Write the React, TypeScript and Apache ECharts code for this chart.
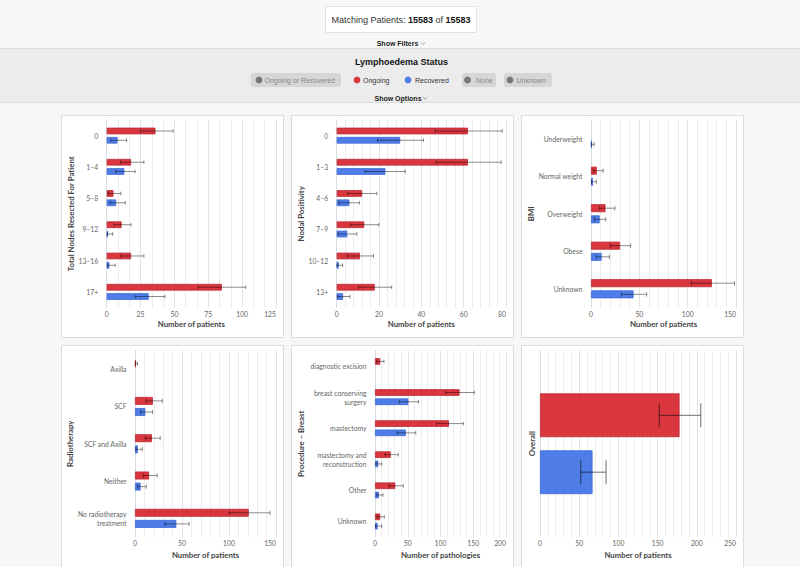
import React, { useEffect, useRef } from 'react';
import * as echarts from 'echarts';

// ---------- data ----------
const nodesCats = ['0', '1–4', '5–8', '9–12', '13–16', '17+'];
const nodesOngoing = [36, 18, 5, 11, 18, 85];
const nodesOngoingLo = [25, 10.3, 1.2, 5.4, 10.5, 67.6];
const nodesOngoingHi = [49, 27.5, 10.5, 18, 27.5, 102.7];
const nodesRecovered = [8, 13, 7, 1, 2, 31];
const nodesRecoveredLo = [3, 6.6, 2.4, 0.3, 0.5, 20.9];
const nodesRecoveredHi = [14.7, 21, 13.7, 4.4, 6.3, 43];

const nodalCats = ['0', '1–3', '4–6', '7–9', '10–12', '13+'];
const nodalOngoing = [62, 62, 12, 13, 11, 18];
const nodalOngoingLo = [46.6, 47, 5.2, 6.6, 5, 10.2];
const nodalOngoingHi = [78.2, 77.7, 19, 19.9, 17.4, 26];
const nodalRecovered = [30, 23, 6, 5, 1, 3];
const nodalRecoveredLo = [19.3, 13.4, 1.1, 0.7, 0.1, 0.5];
const nodalRecoveredHi = [41, 32.4, 10.7, 9.5, 2.8, 6.3];

const bmiCats = ['Underweight', 'Normal weight', 'Overweight', 'Obese', 'Unknown'];
const bmiOngoing = [0, 6, 15, 30, 125];
const bmiOngoingLo = [0, 2.4, 8.7, 20, 104];
const bmiOngoingHi = [0, 12.5, 24.7, 41, 148.5];
const bmiRecovered = [1, 2, 9, 11, 44];
const bmiRecoveredLo = [0.2, 0.5, 3.5, 5.5, 31.4];
const bmiRecoveredHi = [3.2, 5.5, 15.3, 19, 57.6];

const rtCats = ['Axilla', 'SCF', 'SCF and Axilla', 'Neither', 'No radiotherapy\ntreatment'];
const rtOngoing = [1, 19, 18, 15, 121];
const rtOngoingLo = [0.2, 11.7, 11, 8.8, 100];
const rtOngoingHi = [2.6, 29, 26.8, 23.6, 143.7];
const rtRecovered = [0, 11, 3, 6, 44];
const rtRecoveredLo = [0, 6, 1, 2.5, 31.8];
const rtRecoveredHi = [0, 18.7, 7.7, 12, 57.5];

const procCats = ['diagnostic excision', 'breast conserving\nsurgery', 'mastectomy', 'mastectomy and\nreconstruction', 'Other', 'Unknown'];
const procOngoing = [8, 129, 113, 24, 31, 8];
const procOngoingLo = [2.6, 108, 94, 15.3, 21.4, 3.1];
const procOngoingHi = [13.7, 151.6, 134.8, 35.6, 43.2, 14.2];
const procRecovered = [0, 51, 47, 5, 6, 4];
const procRecoveredLo = [0, 37.1, 34, 1.5, 2.6, 1];
const procRecoveredHi = [0, 66.3, 62.2, 10.2, 12.2, 10.2];

const overallCats = ['Overall'];
const overallOngoing = [178];
const overallOngoingLo = [152.2];
const overallOngoingHi = [205];
const overallRecovered = [67];
const overallRecoveredLo = [51.9];
const overallRecoveredHi = [84.2];

const matching = 15583;
const total = 15583;

// ---------- style ----------
const RED = '#d9363e';
const RED_B = '#bf2a33';
const BLUE = '#4f7de8';
const BLUE_B = '#3f6ad6';
const FONT = 'Lato';
const HFONT = 'Liberation Sans';

type Panel = {
  grid: { left: number; top: number; width: number; height: number };
  cats: string[];
  red: number[]; redLo: number[]; redHi: number[];
  blue: number[]; blueLo: number[]; blueHi: number[];
  max: number; interval: number; minor: number;
  yName: string; yNameGap: number; xName: string; xNameGap: number;
  showCatLabels: boolean; catGap: number; barGap: number; errW: number;
};

const panels: Panel[] = [
  { grid: { left: 106.7, top: 120, width: 169.3, height: 187.5 }, cats: nodesCats,
    red: nodesOngoing, redLo: nodesOngoingLo, redHi: nodesOngoingHi,
    blue: nodesRecovered, blueLo: nodesRecoveredLo, blueHi: nodesRecoveredHi,
    max: 125, interval: 25, minor: 3, yName: 'Total Nodes Resected For Patient', yNameGap: 31.5,
    xName: 'Number of patients', xNameGap: 12, showCatLabels: true, catGap: 0.49, barGap: 0.4, errW: 1 },
  { grid: { left: 336.7, top: 120, width: 169.3, height: 187.5 }, cats: nodalCats,
    red: nodalOngoing, redLo: nodalOngoingLo, redHi: nodalOngoingHi,
    blue: nodalRecovered, blueLo: nodalRecoveredLo, blueHi: nodalRecoveredHi,
    max: 80, interval: 20, minor: 5, yName: 'Nodal Positivity', yNameGap: 30.5,
    xName: 'Number of patients', xNameGap: 12, showCatLabels: true, catGap: 0.49, barGap: 0.4, errW: 1 },
  { grid: { left: 591, top: 120, width: 145, height: 187.5 }, cats: bmiCats,
    red: bmiOngoing, redLo: bmiOngoingLo, redHi: bmiOngoingHi,
    blue: bmiRecovered, blueLo: bmiRecoveredLo, blueHi: bmiRecoveredHi,
    max: 150, interval: 50, minor: 5, yName: 'BMI', yNameGap: 54,
    xName: 'Number of patients', xNameGap: 12, showCatLabels: true, catGap: 0.49, barGap: 0.4, errW: 1 },
  { grid: { left: 135, top: 350.5, width: 141, height: 186.5 }, cats: rtCats,
    red: rtOngoing, redLo: rtOngoingLo, redHi: rtOngoingHi,
    blue: rtRecovered, blueLo: rtRecoveredLo, blueHi: rtRecoveredHi,
    max: 150, interval: 50, minor: 5, yName: 'Radiotherapy', yNameGap: 60,
    xName: 'Number of patients', xNameGap: 13.5, showCatLabels: true, catGap: 0.49, barGap: 0.4, errW: 1 },
  { grid: { left: 375, top: 350.5, width: 131, height: 186.5 }, cats: procCats,
    red: procOngoing, redLo: procOngoingLo, redHi: procOngoingHi,
    blue: procRecovered, blueLo: procRecoveredLo, blueHi: procRecoveredHi,
    max: 200, interval: 50, minor: 5, yName: 'Procedure – Breast', yNameGap: 70,
    xName: 'Number of pathologies', xNameGap: 13.5, showCatLabels: true, catGap: 0.49, barGap: 0.4, errW: 1 },
  { grid: { left: 540, top: 350.5, width: 196, height: 186.5 }, cats: overallCats,
    red: overallOngoing, redLo: overallOngoingLo, redHi: overallOngoingHi,
    blue: overallRecovered, blueLo: overallRecoveredLo, blueHi: overallRecoveredHi,
    max: 250, interval: 50, minor: 5, yName: 'Overall', yNameGap: 4,
    xName: 'Number of patients', xNameGap: 13.5, showCatLabels: false, catGap: 0.46, barGap: 0.3, errW: 1.3 },
];

function errSeries(gi: number, lo: number[], hi: number[], which: number, catGap: number, barGap: number, lw: number) {
  return {
    type: 'custom',
    xAxisIndex: gi,
    yAxisIndex: gi,
    z: 5,
    silent: true,
    encode: { x: [1, 2], y: 0 },
    data: lo.map((l, i) => [i, l, hi[i]]),
    renderItem: (params: any, api: any) => {
      const ci = api.value(0);
      const l = api.value(1);
      const h = api.value(2);
      if (!(h > 0)) return null;
      const a = api.coord([l, ci]);
      const b = api.coord([h, ci]);
      const band = api.size([0, 1])[1];
      const gw = band * (1 - catGap);
      const w = gw / (2 + barGap);
      const off = which === 0 ? -gw / 2 + w / 2 : gw / 2 - w / 2;
      const y = a[1] + off;
      const c = (w * 0.55) / 2;
      const style = { stroke: 'rgba(0,0,0,0.45)', lineWidth: lw, fill: null };
      return {
        type: 'group',
        children: [
          { type: 'line', shape: { x1: a[0], y1: y, x2: b[0], y2: y }, style },
          { type: 'line', shape: { x1: a[0], y1: y - c, x2: a[0], y2: y + c }, style },
          { type: 'line', shape: { x1: b[0], y1: y - c, x2: b[0], y2: y + c }, style },
        ],
      };
    },
  };
}

function buildOption() {
  const grids: any[] = [];
  const xAxes: any[] = [];
  const yAxes: any[] = [];
  const series: any[] = [];
  panels.forEach((p, gi) => {
    grids.push({ ...p.grid, containLabel: false });
    xAxes.push({
      gridIndex: gi, type: 'value', min: 0, max: p.max, interval: p.interval,
      axisLine: { show: false }, axisTick: { show: false },
      axisLabel: { color: '#666', fontSize: 6.8, fontFamily: FONT, margin: 2.5, alignMaxLabel: 'right' },
      splitLine: { show: true, lineStyle: { color: '#e3e3e3', width: 1 } },
      minorTick: { show: false, splitNumber: p.minor },
      minorSplitLine: { show: true, lineStyle: { color: '#ececec', width: 1 } },
      name: p.xName, nameLocation: 'middle', nameGap: p.xNameGap,
      nameTextStyle: { color: '#444', fontSize: 7.8, fontWeight: 'bold', fontFamily: FONT },
    });
    yAxes.push({
      gridIndex: gi, type: 'category', data: p.cats, inverse: true,
      axisTick: { show: false },
      axisLine: { show: true, lineStyle: { color: '#d6dbe4', width: 1 } },
      axisLabel: { show: p.showCatLabels, interval: 0, color: '#666', fontSize: 6.8, fontFamily: FONT, margin: 8.5, lineHeight: 9 },
      splitLine: { show: false },
      name: p.yName, nameLocation: 'middle', nameGap: p.yNameGap, nameRotate: 90,
      nameTextStyle: { color: '#444', fontSize: 7.8, fontWeight: 'bold', fontFamily: FONT },
    });
    const gapPct = Math.round(p.barGap * 100) + '%';
    const catPct = Math.round(p.catGap * 100) + '%';
    series.push({
      type: 'bar', name: 'Ongoing', xAxisIndex: gi, yAxisIndex: gi, silent: true,
      data: p.red.map((v) => (v === 0 ? '-' : v)),
      barGap: gapPct, barCategoryGap: catPct,
      itemStyle: { color: RED, borderColor: RED_B, borderWidth: 0.8 },
    });
    series.push({
      type: 'bar', name: 'Recovered', xAxisIndex: gi, yAxisIndex: gi, silent: true,
      data: p.blue.map((v) => (v === 0 ? '-' : v)),
      barGap: gapPct, barCategoryGap: catPct,
      itemStyle: { color: BLUE, borderColor: BLUE_B, borderWidth: 0.8 },
    });
    series.push(errSeries(gi, p.redLo, p.redHi, 0, p.catGap, p.barGap, p.errW));
    series.push(errSeries(gi, p.blueLo, p.blueHi, 1, p.catGap, p.barGap, p.errW));
  });

  const panelRects = [
    [61, 115], [291, 115], [521, 115],
    [61, 345], [291, 345], [521, 345],
  ].map(([x, y]) => ({
    type: 'rect', z: -10, silent: true,
    shape: { x: x + 0.5, y: y + 0.5, width: 222, height: y > 300 ? 240 : 222 },
    style: { fill: '#ffffff', stroke: '#dcdcdc', lineWidth: 1 },
  }));

  const txt = (x: number, y: number, text: string, extra: any = {}) => ({
    type: 'text', x, y, silent: true, z: 10,
    style: {
      text, fontFamily: HFONT, fontSize: 7, fill: '#222',
      align: 'center', verticalAlign: 'middle', textAlign: 'center', textVerticalAlign: 'middle',
      ...extra,
    },
  });

  const chevron = (x: number, y: number) => ({
    type: 'polyline', z: 10, silent: true,
    shape: { points: [[x - 2, y - 1.2], [x, y + 1.2], [x + 2, y - 1.2]] },
    style: { stroke: '#999', lineWidth: 0.8, fill: null },
  });

  const pill = (x: number, w: number) => ({
    type: 'rect', z: 9, silent: true,
    shape: { x, y: 73, width: w, height: 14, r: 2.5 },
    style: { fill: '#d6d6d6' },
  });
  const dot = (x: number, color: string) => ({
    type: 'circle', z: 10, silent: true,
    shape: { cx: x, cy: 80, r: 3.4 },
    style: { fill: color },
  });

  const header = [
    { type: 'rect', z: -9, silent: true, shape: { x: -1, y: 48.5, width: 802, height: 54 },
      style: { fill: '#ececec', stroke: '#dadada', lineWidth: 1 } },
    { type: 'rect', z: 9, silent: true, shape: { x: 325.5, y: 6.5, width: 151, height: 26 },
      style: { fill: '#ffffff', stroke: '#e2e2e2', lineWidth: 1 } },
    {
      type: 'text', x: 401, y: 19.5, z: 10, silent: true,
      style: {
        text: `{n|Matching Patients: }{b|${matching}}{n| of }{b|${total}}`,
        align: 'center', verticalAlign: 'middle', textAlign: 'center', textVerticalAlign: 'middle',
        rich: {
          n: { fontFamily: HFONT, fontSize: 9, fill: '#333', color: '#333' },
          b: { fontFamily: HFONT, fontSize: 9, fontWeight: 'bold', fill: '#111', color: '#111' },
        },
      },
    },
    txt(397.5, 43.5, 'Show Filters', { fontWeight: 'bold' }),
    chevron(423, 43.5),
    txt(401.5, 61.5, 'Lymphoedema Status', { fontWeight: 'bold', fontSize: 9, fill: '#111' }),
    pill(251, 90), dot(259, '#777'), txt(264.5, 80, 'Ongoing or Recovered', { align: 'left', textAlign: 'left', fill: '#888' }),
    dot(357, RED), txt(363, 80, 'Ongoing', { align: 'left', textAlign: 'left', fill: '#333' }),
    dot(408, BLUE), txt(415, 80, 'Recovered', { align: 'left', textAlign: 'left', fill: '#333' }),
    pill(462, 34), dot(467.5, '#777'), txt(476, 80, 'None', { align: 'left', textAlign: 'left', fill: '#888' }),
    pill(504, 48), dot(510, '#777'), txt(516.5, 80, 'Unknown', { align: 'left', textAlign: 'left', fill: '#888' }),
    txt(398, 98, 'Show Options', { fontWeight: 'bold' }),
    chevron(425, 98),
  ];

  return {
    animation: false,
    backgroundColor: '#f7f7f7',
    grid: grids,
    xAxis: xAxes,
    yAxis: yAxes,
    series,
    graphic: { elements: [...panelRects, ...header] },
  };
}

export default function App() {
  const ref = useRef<HTMLDivElement>(null);
  useEffect(() => {
    if (!ref.current) return;
    const chart = echarts.init(ref.current, undefined, { renderer: 'svg' });
    chart.setOption(buildOption() as any);
    return () => chart.dispose();
  }, []);
  return (
    <div
      ref={ref}
      style={{ position: 'absolute', left: 0, top: 0, width: 800, height: 567 }}
    />
  );
}
